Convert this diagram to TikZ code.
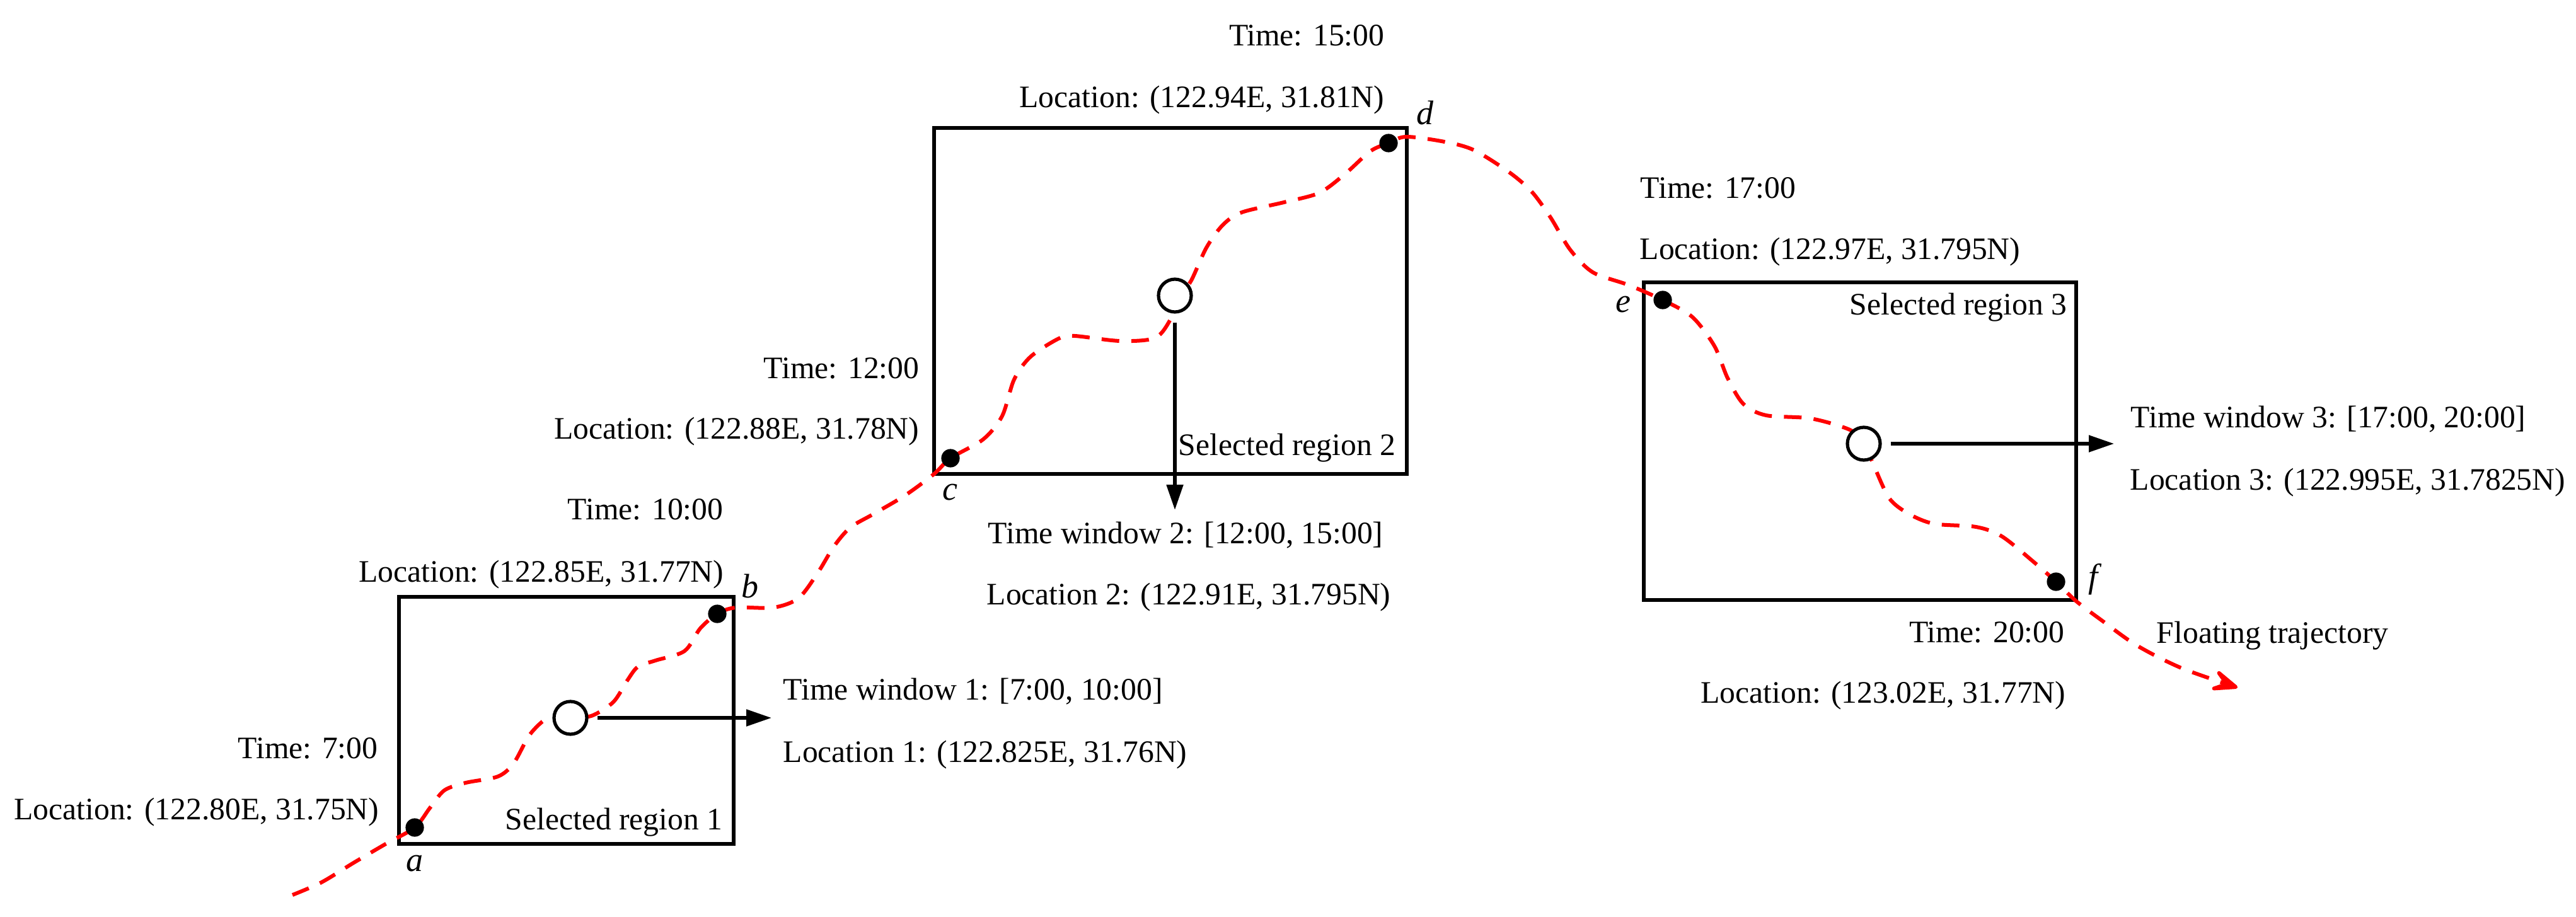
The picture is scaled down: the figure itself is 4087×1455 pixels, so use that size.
\documentclass[tikz,border=0pt]{standalone}
\usepackage{fontspec}
\setmainfont{Liberation Serif}
\usetikzlibrary{arrows.meta}
\begin{document}
\begin{tikzpicture}[x=0.25pt,y=-0.25pt,
  lab/.style={inner sep=0pt, font=\fontsize{12.4pt}{15pt}\selectfont},
  ptlab/.style={inner sep=0pt, font=\fontsize{13.5pt}{15pt}\selectfont\itshape},
  regionbox/.style={draw, line width=1.4pt, inner sep=0pt},
  dotn/.style={circle, fill=black, inner sep=0pt, minimum size=7.3pt},
  hollow/.style={circle, draw, fill=white, line width=1.3pt, inner sep=0pt, minimum size=13pt},
  traj/.style={red, line width=1.5pt, dash pattern=on 7pt off 4.8pt, -{Stealth[length=15pt,width=12pt,inset=8pt,round]}},
  warrow/.style={line width=1.3pt, -{Triangle[length=10pt,width=6.5pt]}, shorten <=3.5pt}]
\useasboundingbox (0,0) rectangle (4087,1455);

% selected regions
\node[regionbox, minimum width=132.75pt, minimum height=98pt] (r1) at (898.5,1143) {};
\node[regionbox, minimum width=187.5pt, minimum height=137.25pt] (r2) at (1857,477.5) {};
\node[regionbox, minimum width=171.5pt, minimum height=126pt] (r3) at (2951,700) {};

% key points
\coordinate (pa) at (658,1313);
\coordinate (pb) at (1138,974);
\coordinate (pc) at (1508,727);
\coordinate (pd) at (2203,227);
\coordinate (pe) at (2638,476);
\coordinate (pf) at (3262,923);
\coordinate (s0) at (464,1420);
\coordinate (s1) at (3550,1091);

% trajectory
\draw[traj] plot[smooth, tension=0.5] coordinates {
 (s0) (510,1400) (561,1369) (612,1339) (pa) (682,1282) (705,1254) (739,1242) (790,1232) (815,1211) (841,1165)
 (871,1138) (905,1137) (938,1136) (973,1114) (995,1080) (1012,1058) (1040,1048) (1086,1033) (1111,997) (pb)
 (1167,964) (1227,964) (1267,949) (1298,908) (1323,867) (1349,837) (1385,816) (1436,786) (1482,752) (pc)
 (1560,697) (1590,660) (1609,602) (1635,566) (1680,537) (1705,533) (1777,541) (1833,536) (1858,505) (1872,470)
 (1890,445) (1914,393) (1940,357) (1970,337) (2037,321) (2093,306) (2134,276) (2174,240) (pd)
 (2231,217) (2292,225) (2338,238) (2394,273) (2430,304) (2460,345) (2491,396) (2527,432) (2583,452) (pe)
 (2685,503) (2720,549) (2741,600) (2766,641) (2802,659) (2873,664) (2935,682) (2957,703) (2971,734) (2997,790)
 (3028,815) (3068,831) (3135,836) (3176,851) (3227,892) (pf) (3293,953) (3334,984) (3390,1024) (3461,1060) (s1)};

% dots and window centres
\node[dotn] (a) at (pa) {};
\node[dotn] (b) at (pb) {};
\node[dotn] (c) at (pc) {};
\node[dotn] (d) at (pd) {};
\node[dotn] (e) at (pe) {};
\node[dotn] (f) at (pf) {};
\node[hollow] (c1) at (905,1139) {};
\node[hollow] (c2) at (1864,469) {};
\node[hollow] (c3) at (2957,704) {};

% arrows to window descriptions
\coordinate (t1) at (1224,1139);
\coordinate (t2) at (1864,809);
\coordinate (t3) at (3354,704);
\draw[warrow] (c1) -- (t1);
\draw[warrow] (c2) -- (t2);
\draw[warrow] (c3) -- (t3);

% point labels
\node[ptlab, anchor=base] (la) at (658,1382) {a};
\node[ptlab, anchor=base] (lb) at (1190,948) {b};
\node[ptlab, anchor=base] (lc) at (1507,793) {c};
\node[ptlab, anchor=base] (ld) at (2261,197) {d};
\node[ptlab, anchor=base] (le) at (2575,495) {e};
\node[ptlab, anchor=base] (lf) at (3321,932) {f};

% region labels
\node[lab, anchor=base east] (sr1) at (1147,1316) {Selected region 1};
\node[lab, anchor=base east] (sr2) at (2215,722) {Selected region 2};
\node[lab, anchor=base east] (sr3) at (3280,499) {Selected region 3};

% time / location labels
\node[lab, anchor=base east] (ta) at (600,1203) {Time: 7:00};
\node[lab, anchor=base east] (la2) at (602,1300) {Location: (122.80E, 31.75N)};
\node[lab, anchor=base east] (tb) at (1148,824) {Time: 10:00};
\node[lab, anchor=base east] (lb2) at (1149,923) {Location: (122.85E, 31.77N)};
\node[lab, anchor=base east] (tc) at (1459,600) {Time: 12:00};
\node[lab, anchor=base east] (lc2) at (1459,696) {Location: (122.88E, 31.78N)};
\node[lab, anchor=base east] (td) at (2197,73) {Time: 15:00};
\node[lab, anchor=base east] (ld2) at (2197,171) {Location: (122.94E, 31.81N)};
\node[lab, anchor=base west] (te) at (2602,314) {Time: 17:00};
\node[lab, anchor=base west] (le2) at (2601,411) {Location: (122.97E, 31.795N)};
\node[lab, anchor=base east] (tf) at (3276,1019) {Time: 20:00};
\node[lab, anchor=base east] (lf2) at (3278,1115) {Location: (123.02E, 31.77N)};

% window descriptions
\node[lab, anchor=base west] (w1) at (1242,1110) {Time window 1: [7:00, 10:00]};
\node[lab, anchor=base west] (l1) at (1242,1209) {Location 1: (122.825E, 31.76N)};
\node[lab, anchor=base west] (w2) at (1567,862) {Time window 2: [12:00, 15:00]};
\node[lab, anchor=base west] (l2) at (1565,959) {Location 2: (122.91E, 31.795N)};
\node[lab, anchor=base west] (w3) at (3380,678) {Time window 3: [17:00, 20:00]};
\node[lab, anchor=base west] (l3) at (3379,777) {Location 3: (122.995E, 31.7825N)};
\node[lab, anchor=base west] (ft) at (3421,1020) {Floating trajectory};
\end{tikzpicture}
\end{document}
